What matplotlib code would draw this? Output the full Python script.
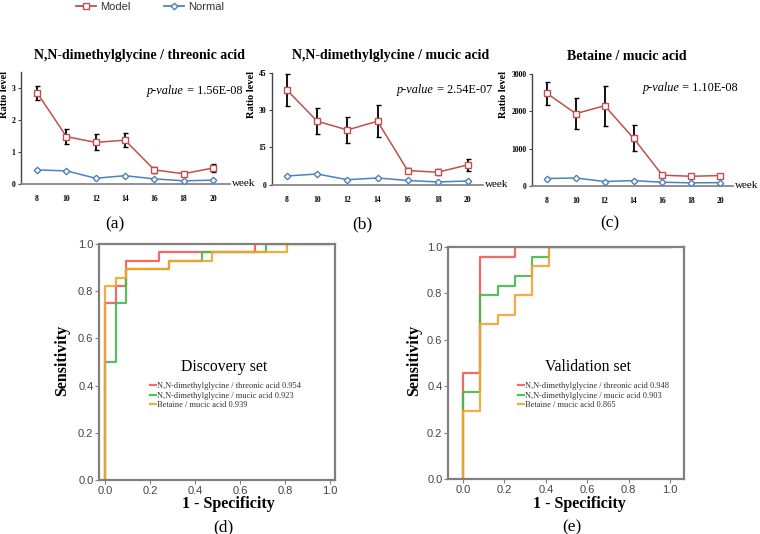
import matplotlib
matplotlib.use('Agg')
import matplotlib.pyplot as plt
from matplotlib.lines import Line2D

plt.rcParams['font.family'] = ['Liberation Serif', 'DejaVu Serif']

# ---- top panels: ratio level over weeks ----
weeks = [8, 10, 12, 14, 16, 18, 20]

a_model = [2.85, 1.48, 1.30, 1.37, 0.44, 0.32, 0.50]
a_err = [0.22, 0.23, 0.25, 0.22, 0.09, 0.05, 0.11]
a_normal = [0.44, 0.41, 0.18, 0.26, 0.16, 0.10, 0.12]

b_model = [38.0, 25.5, 22.0, 25.5, 5.7, 5.0, 8.0]
b_err = [6.3, 5.3, 5.3, 6.5, 1.0, 1.3, 2.5]
b_normal = [3.5, 4.3, 2.0, 2.7, 1.7, 1.1, 1.5]

c_model = [2480, 1940, 2150, 1280, 290, 260, 280]
c_err = [310, 410, 530, 350, 40, 25, 40]
c_normal = [200, 215, 120, 145, 100, 85, 90]

titles = ['N,N-dimethylglycine / threonic acid',
          'N,N-dimethylglycine / mucic acid',
          'Betaine / mucic acid']
pvalues = ['1.56E-08', '2.54E-07', '1.10E-08']

# ---- ROC curves (corner points) ----
d_red_fpr = [0, 0, 0.048, 0.048, 0.095, 0.095, 0.238, 0.238, 0.667, 0.667, 1.0]
d_red_tpr = [0, 0.750, 0.750, 0.821, 0.821, 0.929, 0.929, 0.964, 0.964, 1.0, 1.0]
d_green_fpr = [0, 0, 0.048, 0.048, 0.095, 0.095, 0.286, 0.286, 0.429, 0.429, 0.714, 0.714, 1.0]
d_green_tpr = [0, 0.500, 0.500, 0.750, 0.750, 0.893, 0.893, 0.929, 0.929, 0.964, 0.964, 1.0, 1.0]
d_orange_fpr = [0, 0, 0.048, 0.048, 0.095, 0.095, 0.286, 0.286, 0.476, 0.476, 0.810, 0.810, 1.0]
d_orange_tpr = [0, 0.821, 0.821, 0.857, 0.857, 0.893, 0.893, 0.929, 0.929, 0.964, 0.964, 1.0, 1.0]

e_red_fpr = [0, 0, 0.083, 0.083, 0.250, 0.250, 1.0]
e_red_tpr = [0, 0.458, 0.458, 0.958, 0.958, 1.0, 1.0]
e_green_fpr = [0, 0, 0.083, 0.083, 0.167, 0.167, 0.250, 0.250, 0.333, 0.333, 0.417, 0.417, 1.0]
e_green_tpr = [0, 0.375, 0.375, 0.792, 0.792, 0.833, 0.833, 0.875, 0.875, 0.958, 0.958, 1.0, 1.0]
e_orange_fpr = [0, 0, 0.083, 0.083, 0.167, 0.167, 0.250, 0.250, 0.333, 0.333, 0.417, 0.417, 1.0]
e_orange_tpr = [0, 0.292, 0.292, 0.667, 0.667, 0.708, 0.708, 0.792, 0.792, 0.917, 0.917, 1.0, 1.0]

roc_names = ['N,N-dimethylglycine / threonic acid',
             'N,N-dimethylglycine / mucic acid',
             'Betaine / mucic acid']
d_auc = ['0.954', '0.923', '0.939']
e_auc = ['0.948', '0.903', '0.865']

RED = '#c0504d'
BLUE = '#4f81bd'
ROC_COLORS = ['#f25a57', '#45b94a', '#f8a22c']

W, H = 760, 534
fig = plt.figure(figsize=(W / 100, H / 100), dpi=100)


def box(l, t, r, b):
    # pixel box -> figure fraction rect
    return [l / W, 1 - b / H, (r - l) / W, (b - t) / H]


def fx(x):
    return x / W


def fy(y):
    return 1 - y / H


top = [
    (box(21, 72, 230, 184), a_model, a_err, a_normal, (6.9, 21.16), (0, 3.5), [0, 1, 2, 3]),
    (box(272, 72.7, 483, 184.7), b_model, b_err, b_normal, (7.0, 21.0), (0, 45), [0, 15, 30, 45]),
    (box(532, 74, 733, 186), c_model, c_err, c_normal, (6.96, 20.9), (0, 3000), [0, 1000, 2000, 3000]),
]
title_pos = [(139, 55), (391, 55), (627, 57)]
pval_pos = [(242, 91), (492, 90), (738, 88)]
ylab_pos = [(5, 95), (251, 95), (503, 95)]
sub_pos = [(115, 224, '(a)'), (362, 224, '(b)'), (610, 223, '(c)')]

pval_texts = []
for i, (rect, model, err, normal, xl, yl, yt) in enumerate(top):
    ax = fig.add_axes(rect)
    ax.errorbar(weeks, model, yerr=err, fmt='none', ecolor='black',
                elinewidth=1.3, capsize=1.8, capthick=1, zorder=2)
    ax.plot(weeks, model, color=RED, marker='s', ms=5, mfc='white', mew=1,
            lw=1.1, zorder=3)
    ax.plot(weeks, normal, color=BLUE, marker='D', ms=3.3, mfc='white', mew=1,
            lw=1.1, zorder=3)
    ax.set_xlim(*xl)
    ax.set_ylim(*yl)
    ax.set_xticks(weeks)
    ax.set_yticks(yt)
    ax.spines['top'].set_visible(False)
    ax.spines['right'].set_visible(False)
    ax.spines['left'].set_color('#444444')
    ax.spines['bottom'].set_color('#888888')
    ax.spines['left'].set_linewidth(1.0)
    ax.spines['bottom'].set_linewidth(1.3)
    ax.tick_params(axis='x', length=0, pad=8, labelsize=5.5)
    ax.tick_params(axis='y', length=2, width=0.8, pad=2, labelsize=5.5, color='#444444')
    for lab in ax.get_xticklabels() + ax.get_yticklabels():
        lab.set_fontweight('bold')
    ax.set_facecolor('none')
    ax.text(1.01, 0, 'week', transform=ax.transAxes, ha='left', va='center', fontsize=8)
    fig.text(fx(title_pos[i][0]), fy(title_pos[i][1]), titles[i], ha='center', va='center',
             fontsize=10, fontweight='bold')
    pval_texts.append(fig.text(fx(pval_pos[i][0]), fy(pval_pos[i][1]), ' = ' + pvalues[i],
                               ha='right', va='center', fontsize=8.8))
    fig.text(fx(ylab_pos[i][0]), fy(ylab_pos[i][1]), 'Ratio level', rotation=90, ha='center',
             va='center', fontsize=7.5, fontweight='bold')
    fig.text(fx(sub_pos[i][0]), fy(sub_pos[i][1]), sub_pos[i][2], ha='center', va='center',
             fontsize=12.5)

# italic "p-value" just left of each " = value" string
fig.canvas.draw()
renderer = fig.canvas.get_renderer()
for txt in pval_texts:
    bb = txt.get_window_extent(renderer)
    fig.text(bb.x0 / W, txt.get_position()[1], 'p-value', ha='right', va='center',
             fontsize=8.8, fontstyle='italic')

# top legend
handles = [Line2D([], [], color=RED, marker='s', ms=5, mfc='white', mew=1, lw=1.3),
           Line2D([], [], color=BLUE, marker='D', ms=3.3, mfc='white', mew=1, lw=1.3)]
leg = fig.legend(handles, ['Model', 'Normal'], loc='center', bbox_to_anchor=(fx(150), fy(7)),
                 ncol=2, frameon=False, handlelength=1.8, handletextpad=0.35,
                 columnspacing=3.0, borderpad=0,
                 prop={'family': 'Liberation Sans', 'size': 8})
for txt in leg.get_texts():
    txt.set_color('#333333')

# ---- ROC panels ----
roc = [
    (box(99, 244, 335, 480), (-0.0267, 1.022),
     [(d_red_fpr, d_red_tpr), (d_green_fpr, d_green_tpr), (d_orange_fpr, d_orange_tpr)],
     d_auc, 'Discovery set', (224, 367), (228, 504), (62, 360), (223, 527, '(d)'), (150, 382)),
    (box(448, 247, 684, 479), (-0.0726, 1.068),
     [(e_red_fpr, e_red_tpr), (e_green_fpr, e_green_tpr), (e_orange_fpr, e_orange_tpr)],
     e_auc, 'Validation set', (588, 367), (579, 504), (414, 360), (572, 527, '(e)'), (518, 382)),
]

ticks = [0, 0.2, 0.4, 0.6, 0.8, 1.0]
tick_labels = ['0.0', '0.2', '0.4', '0.6', '0.8', '1.0']
for rect, xl, curves, aucs, setname, setpos, xlpos, ylpos, sub, legpos in roc:
    ax = fig.add_axes(rect)
    for (fpr, tpr), col, name, auc in zip(curves, ROC_COLORS, roc_names, aucs):
        ax.plot(fpr, tpr, color=col, lw=1.6, alpha=0.9, label=name + ' ' + auc)
    ax.set_xlim(*xl)
    ax.set_ylim(0, 1)
    ax.set_xticks(ticks)
    ax.set_yticks(ticks)
    ax.set_xticklabels(tick_labels)
    ax.set_yticklabels(tick_labels)
    for sp in ax.spines.values():
        sp.set_color('#808080')
        sp.set_linewidth(1.6)
    ax.tick_params(length=3, width=0.8, color='#808080', labelcolor='#444444',
                   labelsize=8, pad=1)
    for lab in ax.get_xticklabels() + ax.get_yticklabels():
        lab.set_family('Liberation Sans')
    ax.text(fx(setpos[0]), fy(setpos[1]), setname, transform=fig.transFigure,
            ha='center', va='center', fontsize=11.3)
    rleg = ax.legend(loc='upper left', bbox_to_anchor=(fx(legpos[0]), fy(legpos[1])),
                     bbox_transform=fig.transFigure, frameon=False, fontsize=6,
                     handlelength=0.7, handletextpad=0.1, labelspacing=0.2, borderpad=0,
                     borderaxespad=0)
    for txt in rleg.get_texts():
        txt.set_color('#333333')
    fig.text(fx(xlpos[0]), fy(xlpos[1]), '1 - Specificity', ha='center', va='center',
             fontsize=11.5, fontweight='bold')
    fig.text(fx(ylpos[0]), fy(ylpos[1]), 'Sensitivity', rotation=90, ha='center', va='center',
             fontsize=11.5, fontweight='bold')
    fig.text(fx(sub[0]), fy(sub[1]), sub[2], ha='center', va='center', fontsize=12.5)

fig.savefig('out.png', dpi=100)
